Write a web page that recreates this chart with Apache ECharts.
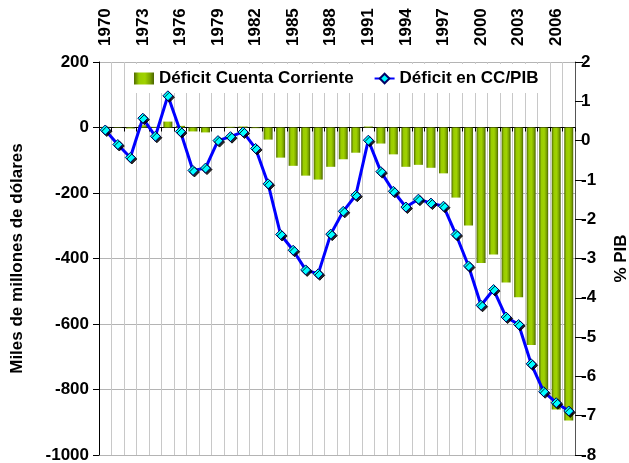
<!DOCTYPE html>
<html>
<head>
<meta charset="utf-8">
<script src="https://cdn.jsdelivr.net/npm/echarts@6/dist/echarts.min.js"></script>
<style>
  html, body { margin: 0; padding: 0; background: #fff; }
  #chart { width: 629px; height: 463px; }
</style>
</head>
<body>
<div id="chart"></div>
<script>
// años
const years = ['1970', '1971', '1972', '1973', '1974', '1975', '1976', '1977', '1978', '1979',
    '1980', '1981', '1982', '1983', '1984', '1985', '1986', '1987', '1988', '1989',
    '1990', '1991', '1992', '1993', '1994', '1995', '1996', '1997', '1998', '1999',
    '2000', '2001', '2002', '2003', '2004', '2005', '2006', '2007'];
// Déficit cuenta corriente (miles de millones de dólares)
const cuentaCorriente = [2, -1, -3, 7, 2, 18, 5, -12, -15, 0,
    2, 3, -2, -37, -92, -117, -147, -159, -120, -97,
    -77, 3, -49, -82, -120, -114, -123, -140, -214, -299,
    -414, -388, -473, -518, -664, -800, -861, -895];
// Déficit en CC/PIB (%)
const ccPib = [0.27, -0.1, -0.43, 0.57, 0.11, 1.14, 0.23, -0.76, -0.70, 0.0,
    0.1, 0.22, -0.2, -1.1, -2.39, -2.79, -3.29, -3.39, -2.38, -1.8,
    -1.39, 0.01, -0.79, -1.29, -1.69, -1.49, -1.59, -1.67, -2.39, -3.19,
    -4.19, -3.79, -4.49, -4.68, -5.68, -6.39, -6.67, -6.88];

const font = 'Liberation Sans, Arial, sans-serif';
const dom = document.getElementById('chart');
const myChart = echarts.init(dom);

// degradado de las barras
const barColor = new echarts.graphic.LinearGradient(0, 0, 1, 0, [
    { offset: 0, color: '#4f6a00' },
    { offset: 0.25, color: '#99cc00' },
    { offset: 0.55, color: '#a0d200' },
    { offset: 0.8, color: '#7ba400' },
    { offset: 1, color: '#4a6300' }
]);

const labelStyle = { fontSize: 17, fontWeight: 'bold', color: '#000', fontFamily: font };

const option = {
    backgroundColor: '#fff',
    animation: false,
    textStyle: { fontFamily: font },
    legend: {
        top: 64,
        left: 128,
        padding: [6, 6],
        itemGap: 20,
        itemWidth: 20,
        itemHeight: 12,
        backgroundColor: '#fff',
        textStyle: labelStyle,
        data: [
            { name: 'Déficit Cuenta Corriente', icon: 'rect' },
            { name: 'Déficit en CC/PIB' }
        ]
    },
    grid: {
        left: 99,
        right: 54,
        top: 62,
        bottom: 8,
        containLabel: false,
        outerBoundsMode: 'none'
    },
    xAxis: [
        {
            type: 'category',
            data: years,
            position: 'top',
            axisLine: { show: false, onZero: false },
            axisTick: { show: false },
            axisLabel: Object.assign({
                interval: 2,
                rotate: -90,
                margin: 16
            }, labelStyle),
            splitLine: {
                show: true,
                interval: 0,
                lineStyle: { color: '#c8c8c8', width: 1 }
            }
        },
        {
            // línea del cero
            type: 'category',
            data: years,
            position: 'bottom',
            axisLine: { show: true, onZero: true, onZeroAxisIndex: 0, lineStyle: { color: '#000', width: 1 } },
            axisTick: { show: true, interval: 0, length: 4, lineStyle: { color: '#000' } },
            axisLabel: { show: false },
            splitLine: { show: false }
        }
    ],
    yAxis: [
        {
            type: 'value',
            name: 'Miles de millones de dólares',
            nameLocation: 'middle',
            nameRotate: 90,
            nameGap: 73,
            nameTextStyle: labelStyle,
            min: -1000,
            max: 200,
            interval: 200,
            position: 'left',
            axisLine: { show: true, lineStyle: { color: '#000' } },
            axisTick: { show: true, length: 6, lineStyle: { color: '#000' } },
            axisLabel: Object.assign({ margin: 10, formatter: v => String(v) }, labelStyle),
            splitLine: { show: true, lineStyle: { color: '#b4b4b4' } }
        },
        {
            type: 'value',
            name: '% PIB',
            nameLocation: 'middle',
            nameRotate: 90,
            nameGap: 38,
            nameTextStyle: labelStyle,
            min: -8,
            max: 2,
            interval: 1,
            position: 'right',
            axisLine: { show: true, lineStyle: { color: '#555' } },
            axisTick: { show: true, length: 8, lineStyle: { color: '#000' } },
            axisLabel: Object.assign({ margin: 6 }, labelStyle),
            splitLine: { show: false }
        }
    ],
    series: [
        {
            name: 'Déficit Cuenta Corriente',
            type: 'bar',
            xAxisIndex: 0,
            yAxisIndex: 0,
            barWidth: 9,
            data: cuentaCorriente,
            itemStyle: { color: barColor }
        },
        {
            name: 'Déficit en CC/PIB',
            type: 'line',
            xAxisIndex: 0,
            yAxisIndex: 1,
            data: ccPib,
            symbol: 'diamond',
            symbolSize: 10,
            showAllSymbol: true,
            lineStyle: { color: '#0000ff', width: 3 },
            itemStyle: {
                color: '#00ffff',
                borderColor: '#000066',
                borderWidth: 1,
                shadowColor: 'rgba(0,0,0,0.85)',
                shadowOffsetX: 1.5,
                shadowOffsetY: 1.5,
                shadowBlur: 0
            },
            z: 5
        }
    ]
};

myChart.setOption(option);
</script>
</body>
</html>
